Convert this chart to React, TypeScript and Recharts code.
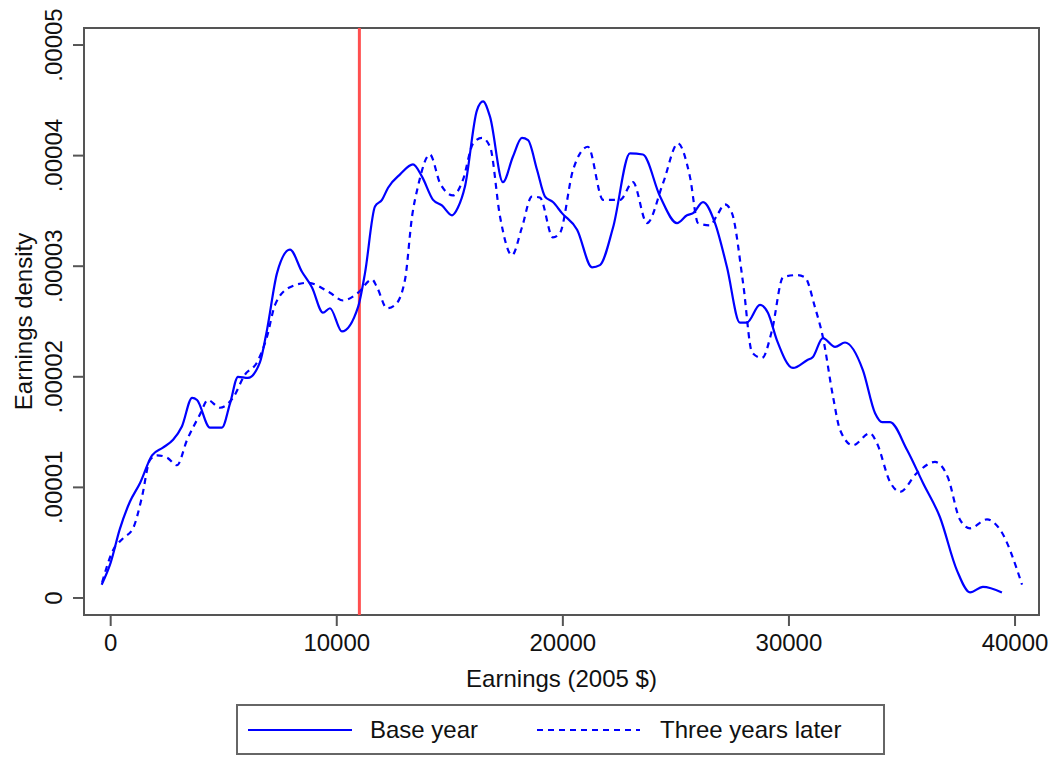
import { LineChart, Line, XAxis, YAxis, ReferenceLine, ReferenceArea } from 'recharts'

// earnings in 2005 $, density in units of 0.00001
const BASE_EARNINGS = [
  -400, 0, 400, 850, 1300, 1830, 2310, 2760, 3150, 3600, 3820, 4390, 4920, 5280, 5630,
  6070, 6600, 6910, 7360, 7930, 8460, 8900, 9390, 9700, 10230, 10940, 11250, 11690, 12000, 12270,
  12800, 13370, 13770, 14260, 14650, 15100, 15360, 15670, 16200, 16470, 16780, 17350, 17790, 18190, 18460,
  18860, 19210, 19560, 19960, 20630, 21290, 21640, 22220, 22970, 23540, 24300, 25050, 25490, 25760, 26200,
  26730, 27260, 27830, 28140, 28720, 29070, 29470, 30180, 30800, 31060, 31500, 32040, 32480, 33270, 33810,
  34120, 34470, 35220, 35930, 36680, 37430, 38010, 38580, 39420,
]
const BASE_DENSITY = [
  0.12, 0.32, 0.62, 0.87, 1.04, 1.29, 1.36, 1.43, 1.55, 1.81, 1.79, 1.54, 1.54, 1.76, 2.0,
  1.99, 2.13, 2.42, 2.94, 3.15, 2.95, 2.81, 2.58, 2.62, 2.41, 2.63, 2.94, 3.54, 3.6, 3.71,
  3.83, 3.92, 3.81, 3.6, 3.55, 3.46, 3.53, 3.72, 4.41, 4.49, 4.35, 3.76, 3.99, 4.16, 4.14,
  3.87, 3.63, 3.58, 3.48, 3.33, 2.99, 3.01, 3.35, 4.02, 4.01, 3.63, 3.39, 3.46, 3.48, 3.58,
  3.39, 2.99, 2.49, 2.49, 2.65, 2.58, 2.33, 2.08, 2.15, 2.18, 2.35, 2.27, 2.31, 2.06, 1.67,
  1.59, 1.59, 1.34, 1.04, 0.73, 0.25, 0.05, 0.1, 0.05,
]
const LATER_EARNINGS = [
  -380, 100, 550, 990, 1380, 1740, 2050, 2490, 2930, 3380, 3950, 4300, 4830, 5410, 5940,
  6470, 6910, 7270, 7930, 8730, 9700, 10280, 10940, 11560, 11780, 12220, 12580, 13020, 13330, 13590,
  14120, 14570, 15140, 15580, 16030, 16420, 16780, 17220, 17750, 18190, 18630, 18990, 19560, 19870, 20450,
  21110, 21780, 22530, 23100, 23720, 24430, 25090, 25620, 25980, 26510, 26820, 27170, 27480, 27970, 28370,
  28810, 29250, 29740, 30360, 30710, 31150, 31500, 31950, 32260, 32830, 33580, 33890, 34470, 34910, 35660,
  36460, 37030, 37560, 38010, 38760, 39330, 40310,
]
const LATER_DENSITY = [
  0.14, 0.43, 0.54, 0.63, 0.91, 1.25, 1.29, 1.27, 1.2, 1.43, 1.66, 1.79, 1.72, 1.81, 2.02,
  2.13, 2.36, 2.65, 2.81, 2.85, 2.76, 2.69, 2.76, 2.88, 2.81, 2.62, 2.65, 2.88, 3.45, 3.72,
  4.01, 3.75, 3.64, 3.78, 4.11, 4.16, 4.08, 3.45, 3.1, 3.35, 3.63, 3.62, 3.26, 3.3, 3.87,
  4.08, 3.6, 3.6, 3.76, 3.39, 3.75, 4.11, 3.81, 3.39, 3.37, 3.46, 3.56, 3.48, 2.85, 2.22,
  2.17, 2.42, 2.9, 2.92, 2.9, 2.63, 2.36, 1.82, 1.52, 1.38, 1.49, 1.4, 1.05, 0.96, 1.13,
  1.23, 1.09, 0.71, 0.63, 0.71, 0.62, 0.12,
]

const X_TICKS = [0, 10000, 20000, 30000, 40000]
const Y_TICKS = [0, 1, 2, 3, 4, 5]
const X_DOMAIN = [-1180, 41060]
const Y_DOMAIN = [-0.154, 5.154]
const CUTOFF = 11000

const baseData = BASE_EARNINGS.map((x, i) => ({ earnings: x, density: BASE_DENSITY[i] }))
const laterData = LATER_EARNINGS.map((x, i) => ({ earnings: x, density: LATER_DENSITY[i] }))

const FONT = '"Liberation Sans", Arial, sans-serif'
const BLUE = '#0000ff'
const AXIS = '#555'

const fmtY = (v: number) => (v === 0 ? '0' : '.0000' + v)

const YTick = ({ y, payload }: any) => (
  <text x={54} y={y} transform={`rotate(-90 54 ${y})`} textAnchor="middle" fontSize={24} fill="#111" fontFamily={FONT}>
    {fmtY(payload.value)}
  </text>
)

const XTick = ({ x, y, payload }: any) => (
  <text x={x} y={y + 23} textAnchor="middle" fontSize={24} fill="#111" fontFamily={FONT}>
    {payload.value}
  </text>
)

const ChartLegend = () => (
  <div
    style={{
      position: 'absolute', left: 228, top: 696, width: 649, height: 51, boxSizing: 'border-box',
      border: '2px solid #666', fontFamily: FONT, fontSize: 24, color: '#111',
    }}
  >
    <svg width={645} height={47} style={{ position: 'absolute', left: 0, top: 0 }}>
      <line x1={10} x2={114} y1={24} y2={24} stroke={BLUE} strokeWidth={2} />
      <text x={132} y={32} fontSize={24} fill="#111" fontFamily={FONT}>Base year</text>
      <line x1={299} x2={402} y1={24} y2={24} stroke={BLUE} strokeWidth={2} strokeDasharray="6 5" />
      <text x={422} y={32} fontSize={24} fill="#111" fontFamily={FONT}>Three years later</text>
    </svg>
  </div>
)

export default function App() {
  return (
    <div style={{ position: 'relative', width: 1040, height: 749, fontFamily: FONT }}>
      <LineChart width={1040} height={749} margin={{ top: 20, right: 9, left: 0, bottom: 67 }}>
        <XAxis
          dataKey="earnings"
          type="number"
          domain={X_DOMAIN}
          ticks={X_TICKS}
          axisLine={false}
          tickLine={{ stroke: AXIS, strokeWidth: 2 }}
          tickSize={11}
          height={75}
          tick={<XTick />}
          allowDataOverflow
          label={{
            content: ({ viewBox }: any) => (
              <text x={viewBox.x + viewBox.width / 2} y={viewBox.y + 72} textAnchor="middle" fontSize={24} fill="#111" fontFamily={FONT}>
                Earnings (2005 $)
              </text>
            ),
          }}
        />
        <YAxis
          type="number"
          domain={Y_DOMAIN}
          ticks={Y_TICKS}
          width={76}
          axisLine={false}
          tickLine={{ stroke: AXIS, strokeWidth: 2 }}
          tickSize={11}
          tick={<YTick />}
          allowDataOverflow
          label={{
            content: ({ viewBox }: any) => {
              const cy = viewBox.y + viewBox.height / 2
              return (
                <text x={24} y={cy} transform={`rotate(-90 24 ${cy})`} textAnchor="middle" fontSize={24} fill="#111" fontFamily={FONT}>
                  Earnings density
                </text>
              )
            },
          }}
        />
        <ReferenceArea
          x1={X_DOMAIN[0]} x2={X_DOMAIN[1]} y1={Y_DOMAIN[0]} y2={Y_DOMAIN[1]}
          fill="none" stroke={AXIS} strokeWidth={2} fillOpacity={0} ifOverflow="visible"
        />
        <ReferenceLine x={CUTOFF} stroke="#ff4f4f" strokeWidth={3} />
        <Line
          data={baseData} dataKey="density" type="monotone" stroke={BLUE} strokeWidth={2.2}
          dot={false} activeDot={false} isAnimationActive={false}
        />
        <Line
          data={laterData} dataKey="density" type="monotone" stroke={BLUE} strokeWidth={2.2}
          strokeDasharray="6 5" dot={false} activeDot={false} isAnimationActive={false}
        />
      </LineChart>
      <ChartLegend />
    </div>
  )
}
